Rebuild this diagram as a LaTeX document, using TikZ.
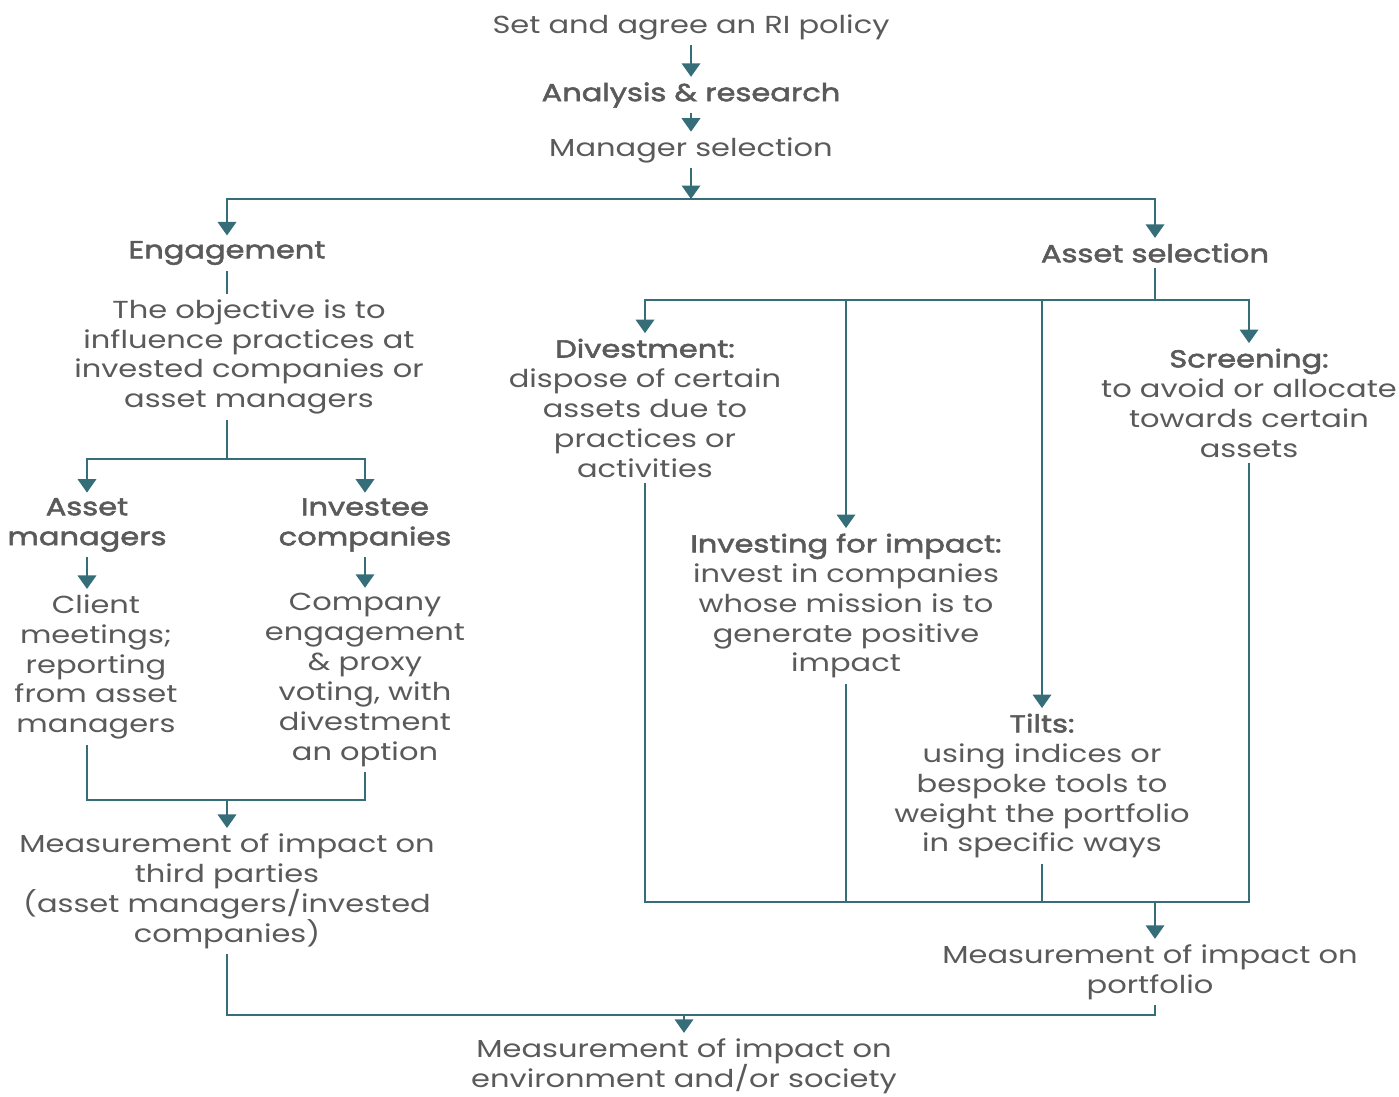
\documentclass[tikz,border=0pt]{standalone}
\usepackage{fontspec}
\setmainfont{Poppins}[FakeStretch=1.24, BoldFont=Poppins, BoldFeatures={FakeBold=2.2}]
\usetikzlibrary{arrows.meta, positioning, calc}
\definecolor{flowteal}{HTML}{356D79}
\definecolor{flowtext}{HTML}{5A5A5A}
\tikzset{
  txt/.style={text=flowtext, font=\fontsize{14}{17}\selectfont, align=center, inner sep=3pt},
  head/.style={txt, font=\fontsize{14}{17}\selectfont\bfseries},
  arr/.style={-{Triangle[width=3.7mm, length=2.7mm]}, line width=1.1pt, draw=flowteal},
  conn/.style={line width=1.1pt, draw=flowteal},
}

\begin{document}
\begin{tikzpicture}[x=0.2mm, y=-0.2mm]
  \useasboundingbox (0,0) rectangle (1399,1097);
  % top chain
  \node[txt] (policy) at (691,27) {Set and agree an RI policy};
  \node[head] (research) at (691,95) {Analysis \& research};
  \node[txt] (mgrsel) at (691,150) {Manager selection};
  \coordinate (split) at (691,199);

  % engagement branch
  \node[head] (engage) at (227,253) {Engagement};
  \node[txt] (objective) at (249,357) {The objective is to\\influence practices at\\invested companies or\\asset managers};
  \coordinate (engsplit) at (227,459);
  \node[head] (assetmgr) at (87,525) {Asset\\managers};
  \node[head] (investee) at (365,525) {Investee\\companies};
  \node[txt] (client) at (96,667) {Client\\meetings;\\reporting\\from asset\\managers};
  \node[txt] (company) at (365,680) {Company\\engagement\\\& proxy\\voting, with\\divestment\\an option};
  \coordinate (thirdjoin) at (227,800);
  \node[txt] (thirdparty) at (227,891) {Measurement of impact on\\third parties\\(asset managers/invested\\companies)};

  % asset selection branch
  \node[head] (assetsel) at (1155,253) {Asset selection};
  \coordinate (selsplit) at (1155,300);
  \node[txt] (divest) at (645,408) {\textbf{Divestment:}\\dispose of certain\\assets due to\\practices or\\activities};
  \node[txt] (screen) at (1249,403) {\textbf{Screening:}\\to avoid or allocate\\towards certain\\assets};
  \node[txt] (impact) at (846,606) {\textbf{Investing for impact:}\\invest in companies\\whose mission is to\\generate positive\\impact};
  \node[txt] (tilts) at (1042,786) {\textbf{Tilts:}\\using indices or\\bespoke tools to\\weight the portfolio\\in specific ways};
  \coordinate (portjoin) at (1155,902);
  \node[txt] (portfolio) at (1150,972) {Measurement of impact on\\portfolio};

  % bottom
  \coordinate (socjoin) at (684,1015);
  \node[txt] (society) at (684,1066) {Measurement of impact on\\environment and/or society};

  \draw[arr] (policy) -- (research);
  \draw[arr] (research) -- (mgrsel);
  \draw[arr] (mgrsel) -- (split);
  \draw[arr] (split) -| (engage);
  \draw[arr] (split) -| (assetsel);

  \draw[conn] (engage) -- (engage |- objective.north);
  \draw[conn] (objective.south -| engage) -- (engsplit);
  \draw[arr] (engsplit) -| (assetmgr);
  \draw[arr] (engsplit) -| (investee);
  \draw[arr] (assetmgr) -- (assetmgr |- client.north);
  \draw[arr] (investee) -- (company);
  \draw[conn] (client.south -| assetmgr) |- (thirdjoin);
  \draw[conn] (company) |- (thirdjoin);
  \draw[arr] (thirdjoin) -- (thirdparty);

  \draw[conn] (assetsel) -- (selsplit);
  \draw[arr] (selsplit) -| (divest);
  \draw[arr] (selsplit) -| (impact);
  \draw[arr] (selsplit) -| (tilts);
  \draw[arr] (selsplit) -| (screen);
  \draw[conn] (divest) |- (portjoin);
  \draw[conn] (impact) |- (portjoin);
  \draw[conn] (tilts) |- (portjoin);
  \draw[conn] (screen) |- (portjoin);
  \draw[arr] (portjoin) -- (portjoin |- portfolio.north);

  \draw[conn] (thirdparty) |- (socjoin);
  \draw[conn] (portfolio.south -| portjoin) |- (socjoin);
  \draw[arr] (socjoin) -- (society);
\end{tikzpicture}
\end{document}
